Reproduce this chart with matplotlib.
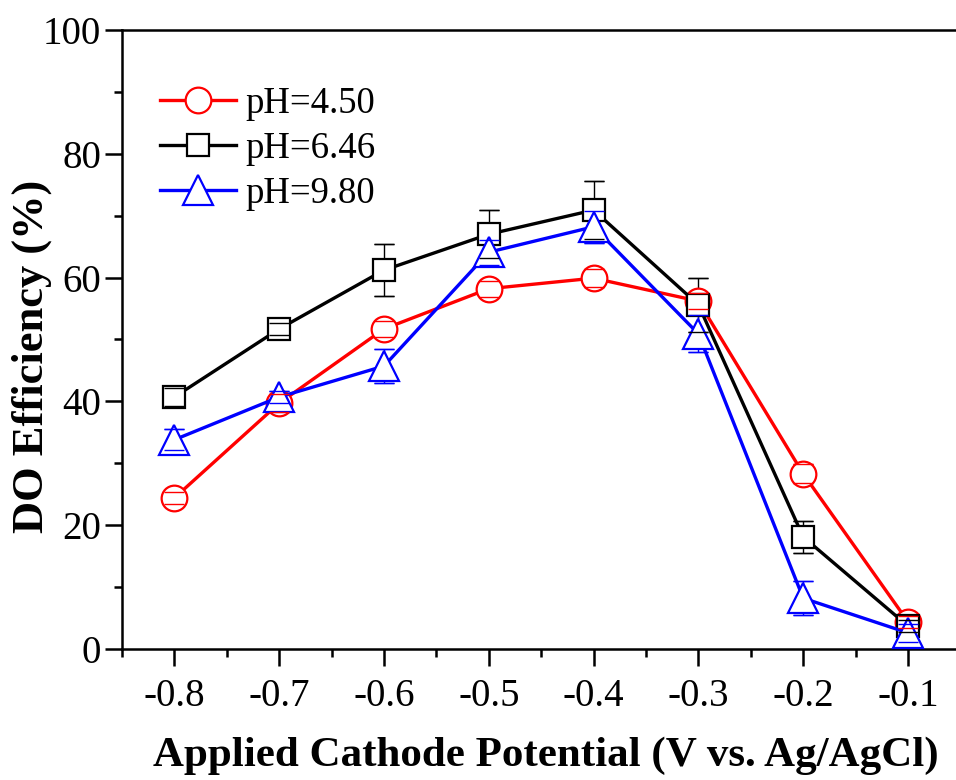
import numpy as np
import matplotlib
matplotlib.use('Agg')
import matplotlib.pyplot as plt
from matplotlib.ticker import MultipleLocator

plt.rcParams['font.family'] = ['Liberation Serif', 'DejaVu Serif']

# applied cathode potential (V vs. Ag/AgCl)
potential = [-0.8, -0.7, -0.6, -0.5, -0.4, -0.3, -0.2, -0.1]

# DO efficiency (%) and standard deviations for each pH
eff_450 = [24.4, 39.7, 51.7, 58.2, 59.9, 56.2, 28.3, 4.4]
err_450 = [1.0, 1.5, 1.3, 1.3, 1.5, 1.3, 1.5, 1.0]
eff_646 = [40.7, 51.7, 61.2, 67.0, 70.9, 55.6, 18.1, 3.7]
err_646 = [1.5, 1.0, 4.2, 3.9, 4.7, 4.4, 2.6, 1.0]
eff_980 = [33.8, 40.7, 45.7, 64.1, 68.2, 50.9, 8.2, 2.6]
err_980 = [1.7, 1.0, 2.8, 2.0, 2.6, 3.0, 2.7, 1.5]

labels = ['pH=4.50', 'pH=6.46', 'pH=9.80']
series = [eff_450, eff_646, eff_980]
errors = [err_450, err_646, err_980]
colors = ['#ff0000', '#000000', '#0000ff']
markers = ['o', 's', '^']
msizes = [18.5, 16, 22]

fig = plt.figure(figsize=(9.56, 7.8), dpi=100)
ax = fig.add_axes([0.1276, 0.168, 0.877, 0.7936])

for y, e, c, m, ms, lab in zip(series, errors, colors, markers, msizes, labels):
    # error bar stems sit below the hollow markers
    ax.errorbar(potential, y, yerr=e, fmt='none', ecolor=c, elinewidth=1.0,
                capsize=7, capthick=1.0, zorder=2)
    ax.plot(potential, y, color=c, lw=2.4, marker=m, ms=ms, mfc='white',
            mec=c, mew=1.6, label=lab, zorder=3)
    # caps drawn again so they show through the markers
    ax.errorbar(potential, y, yerr=e, fmt='none', ecolor=c, elinewidth=0,
                capsize=7, capthick=1.0, zorder=4)

ax.set_xlim(-0.85, -0.05)
ax.set_ylim(0, 100)
ax.xaxis.set_minor_locator(MultipleLocator(0.05))
ax.yaxis.set_major_locator(MultipleLocator(20))
ax.yaxis.set_minor_locator(MultipleLocator(10))
ax.set_xticks(potential)
ax.set_xticklabels(['%.1f' % p for p in potential])

for sp in ax.spines.values():
    sp.set_linewidth(1.8)
ax.spines['right'].set_visible(False)

ax.tick_params(axis='both', which='major', direction='out', length=12, width=1.8,
               labelsize=28)
ax.tick_params(axis='both', which='minor', direction='out', length=6, width=1.8)
ax.tick_params(axis='x', which='major', pad=9)
ax.tick_params(axis='y', which='major', pad=3)

ax.set_xlabel('Applied Cathode Potential (V vs. Ag/AgCl)', fontsize=31,
              fontweight='bold')
ax.xaxis.set_label_coords(0.506, -0.142)
ax.set_ylabel('DO Efficiency (%)', fontsize=32, fontweight='bold')
ax.yaxis.set_label_coords(-0.084, 0.472)

ax.legend(loc='upper left', bbox_to_anchor=(0.028, 0.9325), frameon=False,
          fontsize=26.5, handlelength=2.05, handletextpad=0.27,
          labelspacing=0.28, borderaxespad=0)

fig.savefig('out.png', dpi=100)
